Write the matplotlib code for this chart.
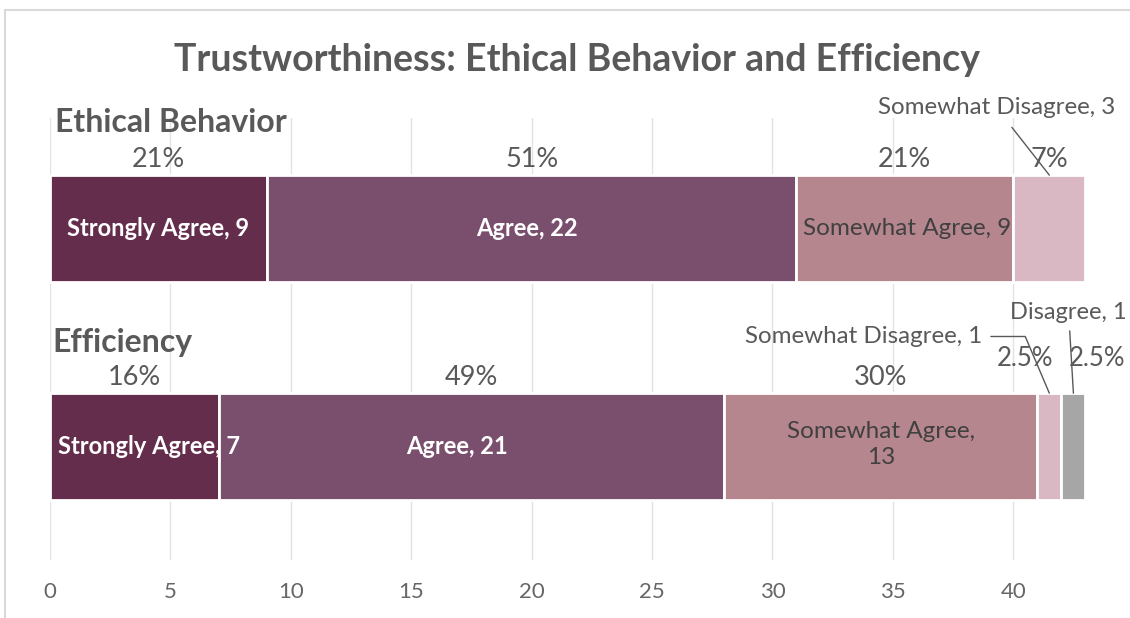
import matplotlib.pyplot as plt
from matplotlib.patches import Rectangle

plt.rcParams['font.family'] = ['Lato', 'DejaVu Sans']

# datos
grupos = ["Ethical Behavior", "Efficiency"]
categorias = ["Strongly Agree", "Agree", "Somewhat Agree", "Somewhat Disagree", "Disagree"]
valores_etica = [9, 22, 9, 3, 0]
valores_eficiencia = [7, 21, 13, 1, 1]
pct_etica = ["21%", "51%", "21%", "7%", ""]
pct_eficiencia = ["16%", "49%", "30%", "2.5%", "2.5%"]
colores = ["#652d4c", "#7a4f6d", "#b6868f", "#d9b8c4", "#a6a6a6"]
ticks_x = [0, 5, 10, 15, 20, 25, 30, 35, 40]

gris = "#595959"
fig = plt.figure(figsize=(11.3, 6.18), dpi=100)
ax = fig.add_axes([50/1130, 58/618, 1080/1130, 442/618])

y_pos = {"Ethical Behavior": 1, "Efficiency": 0}
alto = 0.49

for grupo, vals in zip(grupos, [valores_etica, valores_eficiencia]):
    y = y_pos[grupo]
    izq = 0
    for cat, v, c in zip(categorias, vals, colores):
        if v == 0:
            continue
        ax.barh(y, v, left=izq, height=alto, color=c, edgecolor="white", linewidth=2, zorder=2)
        izq += v

# porcentajes arriba de cada segmento (los de 2.5% van aparte)
for grupo, vals, pcts in zip(grupos, [valores_etica, valores_eficiencia], [pct_etica, pct_eficiencia]):
    y = y_pos[grupo]
    izq = 0
    for v, p in zip(vals, pcts):
        if v == 0:
            continue
        if p != "2.5%":
            ax.text(izq + v / 2, y + alto / 2 + 0.037, p, ha="center", va="baseline",
                    fontsize=19.5, color=gris)
        izq += v

ax.text(40.5, 0.406, pct_eficiencia[3], ha="center", va="center", fontsize=18.5, color=gris)
ax.text(43.5, 0.406, pct_eficiencia[4], ha="center", va="center", fontsize=18.5, color=gris)

# etiquetas dentro de las barras
ax.text(4.5, 1, f"{categorias[0]}, {valores_etica[0]}", ha="center", va="center",
        fontsize=17, color="white", fontweight="bold", zorder=3)
ax.text(19.8, 1, f"{categorias[1]}, {valores_etica[1]}", ha="center", va="center",
        fontsize=17, color="white", fontweight="bold", zorder=3)
ax.text(35.6, 1, f"{categorias[2]}, {valores_etica[2]}", ha="center", va="center",
        fontsize=17.5, color="#404040", zorder=3)
ax.text(4.1, 0, f"{categorias[0]}, {valores_eficiencia[0]}", ha="center", va="center",
        fontsize=17, color="white", fontweight="bold", zorder=3)
ax.text(16.9, 0, f"{categorias[1]}, {valores_eficiencia[1]}", ha="center", va="center",
        fontsize=17, color="white", fontweight="bold", zorder=3)
ax.text(34.5, 0.01, f"{categorias[2]},\n{valores_eficiencia[2]}", ha="center", va="center",
        fontsize=17.5, color="#404040", zorder=3, linespacing=1.25)

# etiquetas con lineas guia
ax.annotate(f"{categorias[3]}, {valores_etica[3]}", xy=(41.5, 1 + alto / 2), xytext=(39.3, 1.555),
            ha="center", va="center", fontsize=17.4, color=gris,
            arrowprops=dict(arrowstyle="-", color=gris, lw=1, shrinkA=6, shrinkB=0), zorder=4)
ax.annotate(f"{categorias[3]}, {valores_eficiencia[3]}", xy=(41.5, alto / 2), xytext=(33.8, 0.505),
            ha="center", va="center", fontsize=17.4, color=gris,
            arrowprops=dict(arrowstyle="-", color=gris, lw=1, shrinkA=4, shrinkB=0,
                            connectionstyle="angle,angleA=0,angleB=113,rad=0"), zorder=4)
ax.annotate(f"{categorias[4]}, {valores_eficiencia[4]}", xy=(42.5, alto / 2), xytext=(42.3, 0.617),
            ha="center", va="center", fontsize=17, color=gris,
            arrowprops=dict(arrowstyle="-", color=gris, lw=1, shrinkA=4, shrinkB=0), zorder=4)

# nombres de los grupos
ax.text(0.2, 1.443, grupos[0], ha="left", va="baseline", fontsize=23, fontweight="bold", color=gris)
ax.text(0.08, 0.435, grupos[1], ha="left", va="baseline", fontsize=23, fontweight="bold", color=gris)

ax.set_xlim(0, 44.85)
ax.set_ylim(-0.52, 1.507)
ax.set_xticks(ticks_x)
ax.set_yticks([])
ax.tick_params(axis="x", length=0, labelsize=16, labelcolor="#666666", pad=16)
ax.grid(axis="x", color="#e3e3e3", linewidth=1, zorder=0)
ax.set_axisbelow(True)
for s in ax.spines.values():
    s.set_visible(False)

fig.text(577/1130, 1 - 60/618, "Trustworthiness: Ethical Behavior and Efficiency", ha="center", va="center",
         fontsize=27, fontweight="bold", color=gris)

# marco del grafico
fig.patches.append(Rectangle((5/1130, -0.05), 1.2, 1 - 10/618 + 0.05, transform=fig.transFigure,
                             fill=False, edgecolor="#d9d9d9", linewidth=1.5))

fig.savefig("out.png", dpi=100)
